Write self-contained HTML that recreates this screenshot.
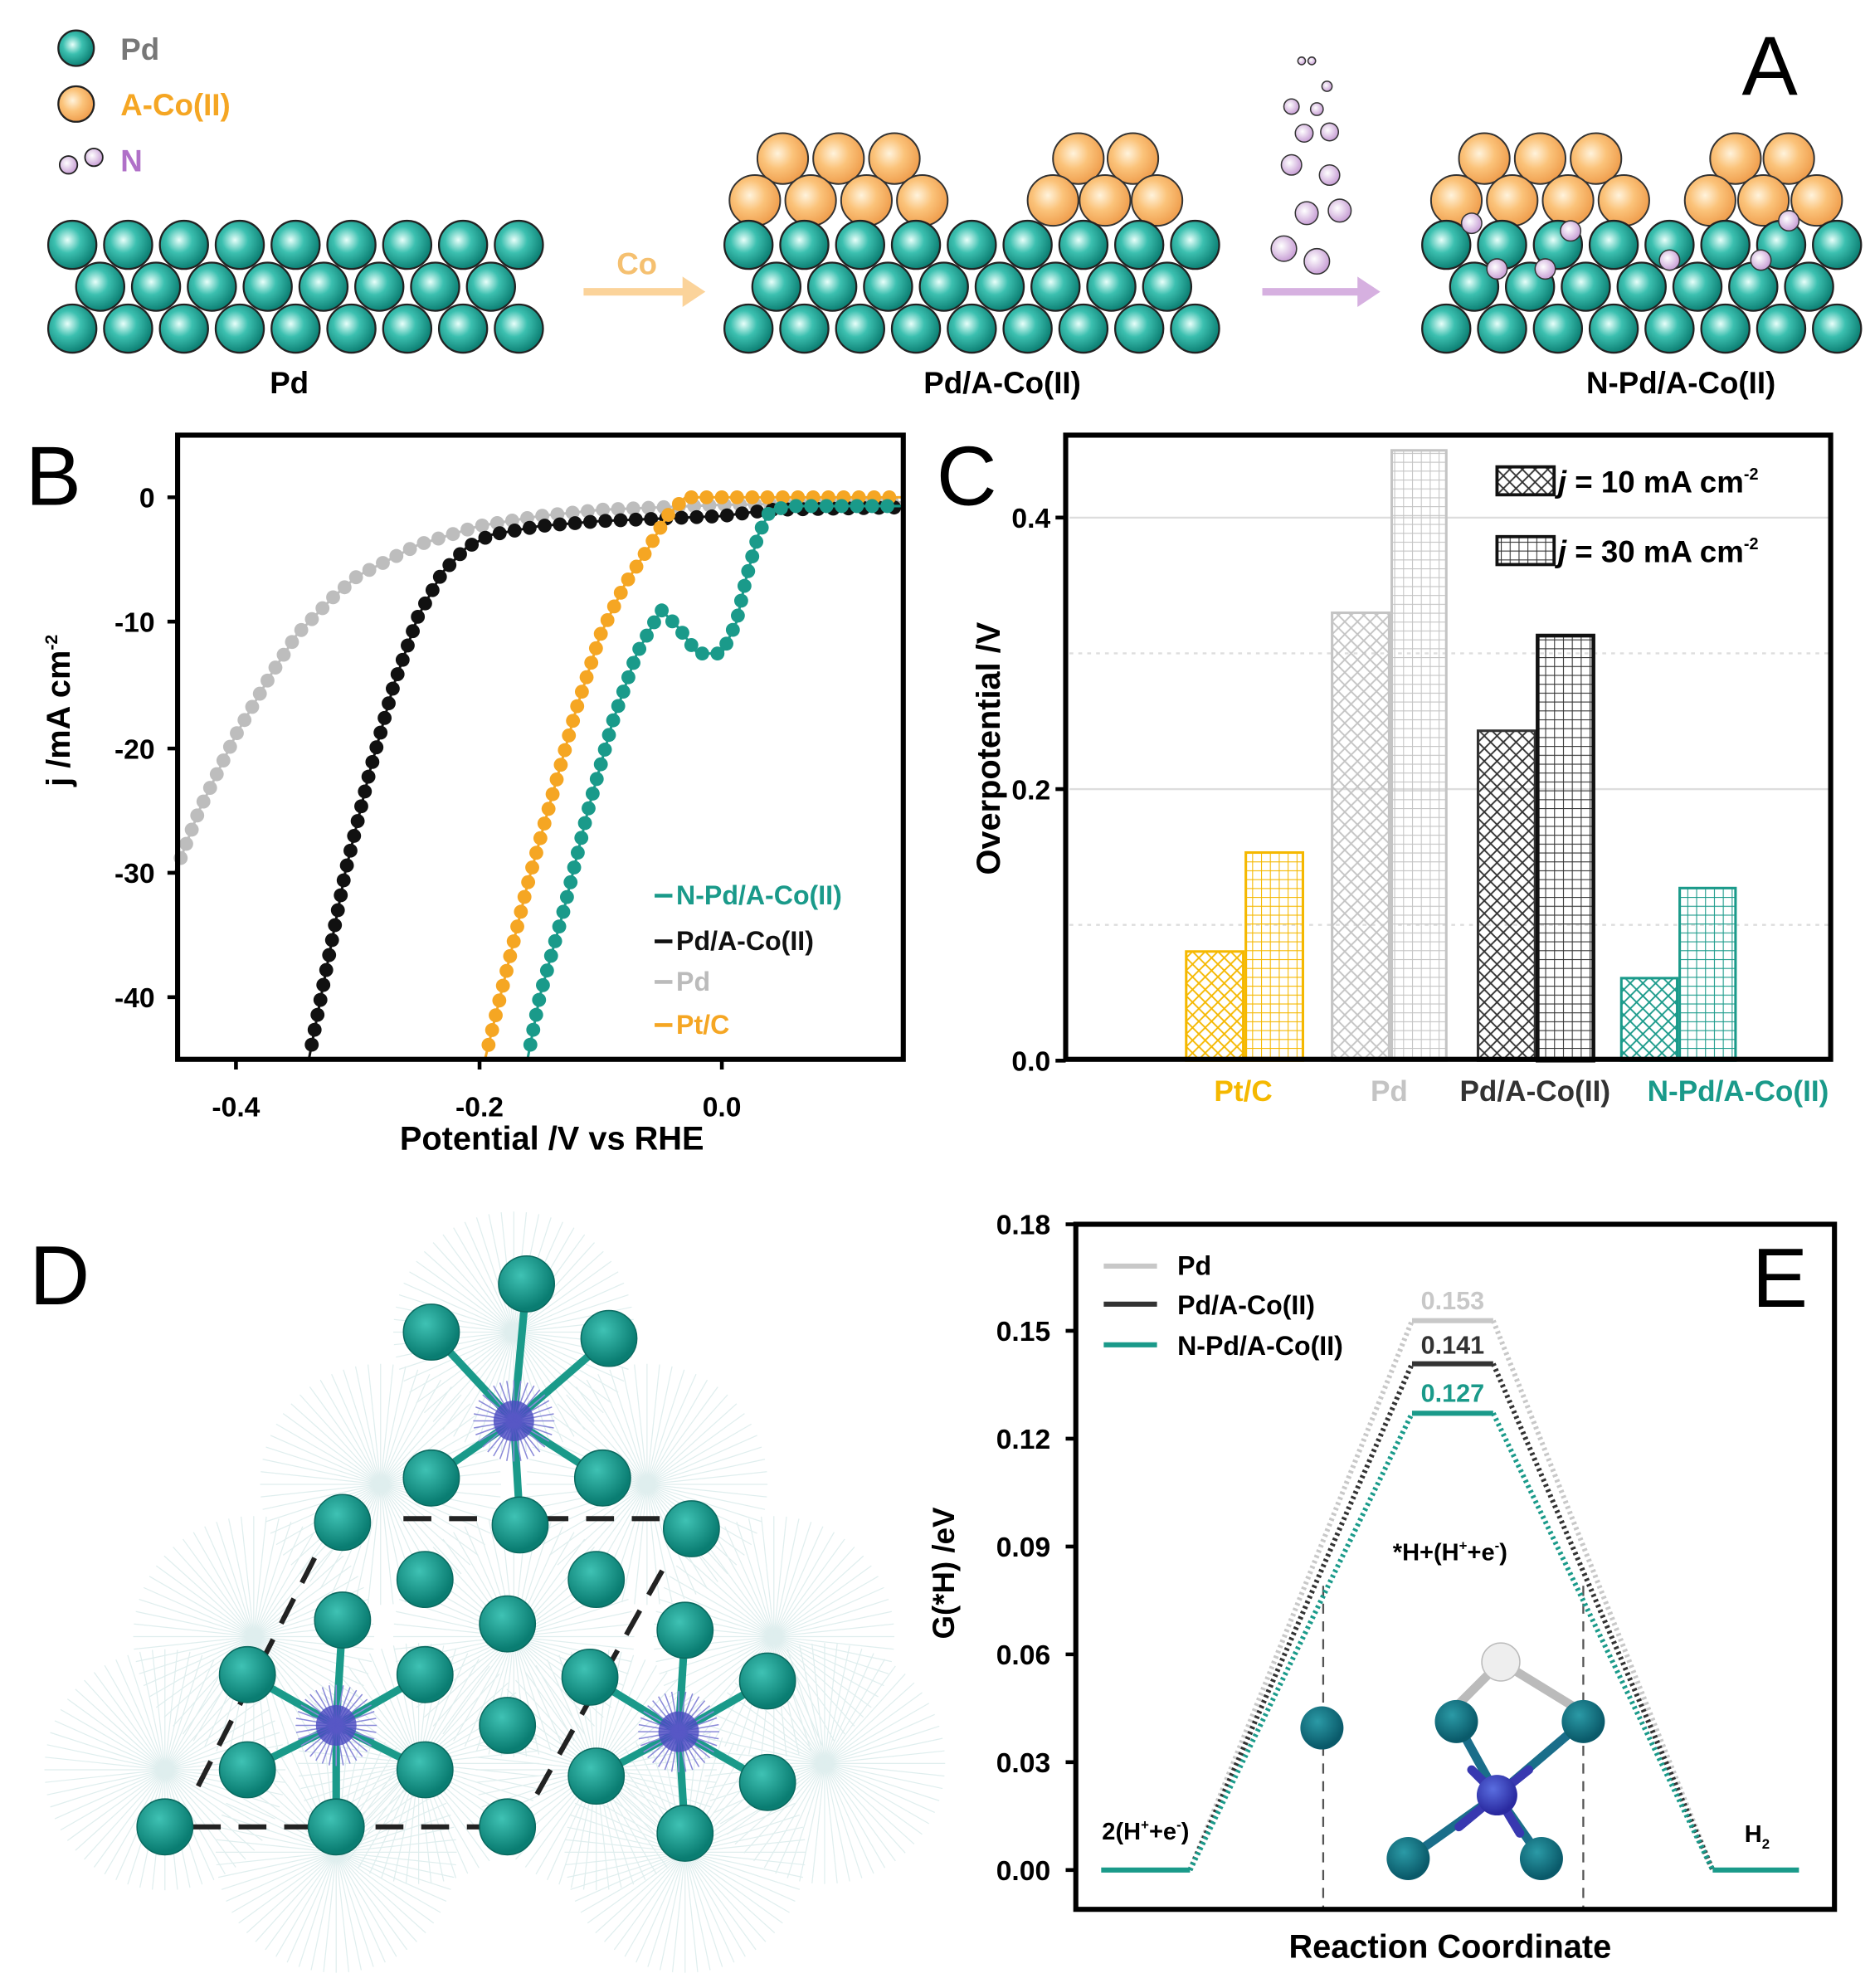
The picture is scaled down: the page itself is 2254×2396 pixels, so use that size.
<!DOCTYPE html>
<html><head><meta charset="utf-8">
<style>
html,body{margin:0;padding:0;background:#fff;}
svg{display:block;}
text{font-family:"Liberation Sans",sans-serif;}
</style></head>
<body>
<svg id="s" width="2254" height="2396" viewBox="0 0 1474 1567" preserveAspectRatio="none" xmlns="http://www.w3.org/2000/svg">
<defs>
<radialGradient id="gt" cx="0.4" cy="0.4" r="0.6"><stop offset="0" stop-color="#e8fffa"/><stop offset="0.45" stop-color="#3cc0b0"/><stop offset="1" stop-color="#0e8276"/></radialGradient>
<radialGradient id="go" cx="0.4" cy="0.4" r="0.6"><stop offset="0" stop-color="#fff3dc"/><stop offset="0.5" stop-color="#fbc37a"/><stop offset="1" stop-color="#f0a050"/></radialGradient>
<radialGradient id="gp" cx="0.4" cy="0.4" r="0.6"><stop offset="0" stop-color="#fff"/><stop offset="1" stop-color="#c9a0d6"/></radialGradient>
<radialGradient id="gd" cx="0.4" cy="0.35" r="0.6"><stop offset="0" stop-color="#3fc2b4"/><stop offset="1" stop-color="#0a7d72"/></radialGradient>
<radialGradient id="ge" cx="0.4" cy="0.35" r="0.6"><stop offset="0" stop-color="#2b9aa6"/><stop offset="1" stop-color="#0a5a6a"/></radialGradient>
<radialGradient id="gb" cx="0.4" cy="0.35" r="0.6"><stop offset="0" stop-color="#5a6ee0"/><stop offset="1" stop-color="#2a2aa0"/></radialGradient>
<pattern id="xo" width="10" height="10" patternUnits="userSpaceOnUse"><path d="M0 0L10 10M10 0L0 10" stroke="#f5b800" stroke-width="1.2"/></pattern>
<pattern id="qo" width="7" height="7" patternUnits="userSpaceOnUse"><path d="M0 0H7M0 0V7" stroke="#f5b800" stroke-width="1.4"/></pattern>
<pattern id="xg" width="10" height="10" patternUnits="userSpaceOnUse"><path d="M0 0L10 10M10 0L0 10" stroke="#c4c4c4" stroke-width="1.2"/></pattern>
<pattern id="qg" width="7" height="7" patternUnits="userSpaceOnUse"><path d="M0 0H7M0 0V7" stroke="#c4c4c4" stroke-width="1.4"/></pattern>
<pattern id="xk" width="10" height="10" patternUnits="userSpaceOnUse"><path d="M0 0L10 10M10 0L0 10" stroke="#333" stroke-width="1.2"/></pattern>
<pattern id="qk" width="7" height="7" patternUnits="userSpaceOnUse"><path d="M0 0H7M0 0V7" stroke="#333" stroke-width="1.4"/></pattern>
<pattern id="xt" width="10" height="10" patternUnits="userSpaceOnUse"><path d="M0 0L10 10M10 0L0 10" stroke="#1a9a8a" stroke-width="1.2"/></pattern>
<pattern id="qt" width="7" height="7" patternUnits="userSpaceOnUse"><path d="M0 0H7M0 0V7" stroke="#1a9a8a" stroke-width="1.4"/></pattern>
</defs>
<rect width="1474" height="1567" fill="#fff"/>
<g id="A"></g>
<!-- A labels -->
<circle cx="60" cy="38" r="14" fill="url(#gt)" stroke="#222" stroke-width="1.5"/>
<text x="95" y="47" font-size="24" font-weight="bold" fill="#777">Pd</text>
<circle cx="60" cy="82" r="14" fill="url(#go)" stroke="#222" stroke-width="1.5"/>
<text x="95" y="91" font-size="24" font-weight="bold" fill="#f5a623">A-Co(II)</text>
<circle cx="54" cy="130" r="7" fill="url(#gp)" stroke="#222" stroke-width="1.2"/>
<circle cx="74" cy="124" r="7" fill="url(#gp)" stroke="#222" stroke-width="1.2"/>
<text x="95" y="135" font-size="24" font-weight="bold" fill="#b070c8">N</text>
<text x="1395" y="75" font-size="66" text-anchor="middle" fill="#000">A</text>
<text x="228" y="310" font-size="24" font-weight="bold" text-anchor="middle">Pd</text>
<text x="790" y="310" font-size="24" font-weight="bold" text-anchor="middle">Pd/A-Co(II)</text>
<text x="1325" y="310" font-size="24" font-weight="bold" text-anchor="middle">N-Pd/A-Co(II)</text>
<path d="M460 230H540" stroke="#fbd39a" stroke-width="6"/><path d="M538 218L556 230L538 242Z" fill="#fbd39a"/>
<text x="502" y="216" font-size="24" font-weight="bold" text-anchor="middle" fill="#f5c070">Co</text>
<path d="M995 230H1072" stroke="#d6b0e0" stroke-width="6"/><path d="M1070 218L1088 230L1070 242Z" fill="#d6b0e0"/>

<!-- B -->
<text x="42" y="398" font-size="66" text-anchor="middle">B</text>
<g id="Bd"></g>
<rect x="140" y="343" width="572" height="492" fill="none" stroke="#000" stroke-width="4"/>
<g font-size="22" font-weight="bold" text-anchor="end">
<text x="122" y="400">0</text><text x="122" y="498">-10</text><text x="122" y="598">-20</text><text x="122" y="696">-30</text><text x="122" y="794">-40</text>
</g>
<g stroke="#000" stroke-width="3"><path d="M132 392h8M132 490h8M132 590h8M132 688h8M132 786h8M186 835v8M378 835v8M569 835v8"/></g>
<g font-size="22" font-weight="bold" text-anchor="middle">
<text x="186" y="880">-0.4</text><text x="378" y="880">-0.2</text><text x="569" y="880">0.0</text>
<text x="435" y="906" font-size="26">Potential /V vs RHE</text>
</g>
<text transform="translate(55,560) rotate(-90)" font-size="26" font-weight="bold" text-anchor="middle">j /mA cm<tspan font-size="14" dy="-10">-2</tspan></text>
<g font-size="21" font-weight="bold">
<path d="M516 706h14" stroke="#1a9a8a" stroke-width="3"/><text x="533" y="713" fill="#1a9a8a">N-Pd/A-Co(II)</text>
<path d="M516 742h14" stroke="#111" stroke-width="3"/><text x="533" y="749" fill="#111">Pd/A-Co(II)</text>
<path d="M516 774h14" stroke="#bbb" stroke-width="3"/><text x="533" y="781" fill="#bbb">Pd</text>
<path d="M516 808h14" stroke="#f5a623" stroke-width="3"/><text x="533" y="815" fill="#f5a623">Pt/C</text>
</g>

<!-- C -->
<text x="762" y="398" font-size="66" text-anchor="middle">C</text>
<g stroke="#ddd" stroke-width="1.5"><path d="M843 622H1441M843 408H1441"/><path d="M843 729H1441M843 515H1441" stroke-dasharray="3 4"/></g>
<rect x="935" y="750" width="45" height="86" fill="url(#xo)" stroke="#f5b800" stroke-width="2"/>
<rect x="982" y="672" width="45" height="164" fill="url(#qo)" stroke="#f5b800" stroke-width="2"/>
<rect x="1050" y="483" width="45" height="353" fill="url(#xg)" stroke="#c4c4c4" stroke-width="2"/>
<rect x="1097" y="355" width="43" height="481" fill="url(#qg)" stroke="#c4c4c4" stroke-width="2"/>
<rect x="1165" y="576" width="45" height="260" fill="url(#xk)" stroke="#333" stroke-width="2"/>
<rect x="1212" y="501" width="44" height="335" fill="url(#qk)" stroke="#111" stroke-width="3"/>
<rect x="1278" y="771" width="44" height="65" fill="url(#xt)" stroke="#1a9a8a" stroke-width="2"/>
<rect x="1324" y="700" width="44" height="136" fill="url(#qt)" stroke="#1a9a8a" stroke-width="2"/>
<rect x="840" y="343" width="603" height="492" fill="none" stroke="#000" stroke-width="4"/>
<g stroke="#000" stroke-width="3"><path d="M832 836h8M832 622h8M832 408h8"/></g>
<g font-size="22" font-weight="bold" text-anchor="end"><text x="828" y="844">0.0</text><text x="828" y="630">0.2</text><text x="828" y="416">0.4</text></g>
<text transform="translate(788,590) rotate(-90)" font-size="26" font-weight="bold" text-anchor="middle">Overpotential /V</text>
<rect x="1180" y="368" width="45" height="22" fill="url(#xk)" stroke="#111" stroke-width="2.5"/>
<rect x="1180" y="423" width="45" height="22" fill="url(#qk)" stroke="#111" stroke-width="2.5"/>
<g font-size="24" font-weight="bold"><text x="1228" y="388"><tspan font-style="italic">j</tspan> = 10 mA cm<tspan font-size="13" dy="-10">-2</tspan></text>
<text x="1228" y="443"><tspan font-style="italic">j</tspan> = 30 mA cm<tspan font-size="13" dy="-10">-2</tspan></text></g>
<g font-size="23" font-weight="bold" text-anchor="middle">
<text x="980" y="868" fill="#f5b800">Pt/C</text><text x="1095" y="868" fill="#c4c4c4">Pd</text>
<text x="1210" y="868" fill="#333">Pd/A-Co(II)</text><text x="1370" y="868" fill="#1a9a8a">N-Pd/A-Co(II)</text>
</g>

<!-- D -->
<text x="47" y="1028" font-size="66" text-anchor="middle">D</text>
<g id="D"></g>

<!-- E -->
<text x="1403" y="1030" font-size="66" text-anchor="middle">E</text>
<g stroke="#555" stroke-width="1.5" stroke-dasharray="8 6"><path d="M1043 1250V1505M1248 1250V1505"/></g>
<g fill="none" stroke-width="4" stroke-dasharray="2 2.5">
<path d="M938 1474L1113 1041M1177 1041L1350 1474" stroke="#c8c8c8"/>
<path d="M938 1474L1113 1075M1177 1075L1350 1474" stroke="#333"/>
<path d="M938 1474L1113 1114M1177 1114L1350 1474" stroke="#1a9a8a"/>
</g>
<g stroke-width="4"><path d="M1113 1041H1177" stroke="#c8c8c8"/><path d="M1113 1075H1177" stroke="#333"/><path d="M1113 1114H1177" stroke="#1a9a8a"/>
<path d="M868 1474H938M1350 1474H1418" stroke="#1a9a8a"/></g>
<g font-size="20" font-weight="bold" text-anchor="middle">
<text x="1145" y="1032" fill="#c8c8c8">0.153</text><text x="1145" y="1067" fill="#333">0.141</text><text x="1145" y="1105" fill="#1a9a8a">0.127</text>
<text x="1143" y="1230" font-size="19">*H+(H<tspan font-size="11" dy="-8">+</tspan><tspan dy="8">+e</tspan><tspan font-size="11" dy="-8">-</tspan><tspan dy="8">)</tspan></text>
<text x="903" y="1450" font-size="19">2(H<tspan font-size="11" dy="-8">+</tspan><tspan dy="8">+e</tspan><tspan font-size="11" dy="-8">-</tspan><tspan dy="8">)</tspan></text>
<text x="1385" y="1452" font-size="19">H<tspan font-size="11" dy="5">2</tspan></text>
</g>
<g stroke-width="4"><path d="M870 998h42" stroke="#c8c8c8"/><path d="M870 1028h42" stroke="#333"/><path d="M870 1060h42" stroke="#1a9a8a"/></g>
<g font-size="21" font-weight="bold"><text x="928" y="1005">Pd</text><text x="928" y="1036">Pd/A-Co(II)</text><text x="928" y="1068">N-Pd/A-Co(II)</text></g>
<g stroke-width="7" stroke-linecap="round">
<path d="M1183 1310L1148 1345M1183 1310L1240 1345" stroke="#bbb"/>
<path d="M1148 1357L1180 1415M1248 1357L1180 1415M1110 1465L1180 1415M1215 1465L1180 1415" stroke="#1a6e8a"/>
<path d="M1180 1415L1160 1395M1180 1415L1205 1395M1180 1415L1150 1440M1180 1415L1198 1445" stroke="#3838b0"/>
</g>
<circle cx="1042" cy="1362" r="17" fill="url(#ge)"/>
<circle cx="1148" cy="1357" r="17" fill="url(#ge)"/>
<circle cx="1248" cy="1357" r="17" fill="url(#ge)"/>
<circle cx="1183" cy="1310" r="15" fill="#eee" stroke="#bbb"/>
<circle cx="1180" cy="1415" r="16" fill="url(#gb)"/>
<circle cx="1110" cy="1465" r="17" fill="url(#ge)"/>
<circle cx="1215" cy="1465" r="17" fill="url(#ge)"/>
<rect x="848" y="965" width="598" height="540" fill="none" stroke="#000" stroke-width="4"/>
<g stroke="#000" stroke-width="3"><path d="M840 965h8M840 1049h8M840 1134h8M840 1219h8M840 1304h8M840 1389h8M840 1474h8"/></g>
<g font-size="22" font-weight="bold" text-anchor="end">
<text x="828" y="973">0.18</text><text x="828" y="1057">0.15</text><text x="828" y="1142">0.12</text><text x="828" y="1227">0.09</text><text x="828" y="1312">0.06</text><text x="828" y="1397">0.03</text><text x="828" y="1482">0.00</text>
</g>
<text transform="translate(752,1240) rotate(-90)" font-size="24" font-weight="bold" text-anchor="middle">G(*H) /eV</text>
<text x="1143" y="1543" font-size="26" font-weight="bold" text-anchor="middle">Reaction Coordinate</text>
</svg>
<script>
var NS="http://www.w3.org/2000/svg";
function el(p,t,a){var e=document.createElementNS(NS,t);for(var k in a)e.setAttribute(k,a[k]);p.appendChild(e);return e;}
var A=document.getElementById("A");
function slab(x0,n){for(var r=0;r<3;r++){var y=193+r*33,off=(r==1)?22:0,m=(r==1)?n-1:n;for(var i=0;i<m;i++)el(A,"circle",{cx:x0+off+i*44,cy:y,r:19,fill:"url(#gt)",stroke:"#222","stroke-width":1.5});}}
function orb(list){list.forEach(function(p){el(A,"circle",{cx:p[0],cy:p[1],r:20,fill:"url(#go)",stroke:"#333","stroke-width":1.3});});}
orb([[617,125],[661,125],[705,125],[595,158],[639,158],[683,158],[727,158],[850,125],[893,125],[830,158],[871,158],[912,158]]);
orb([[1170,125],[1214,125],[1258,125],[1148,158],[1192,158],[1236,158],[1280,158],[1368,125],[1410,125],[1348,158],[1390,158],[1432,158]]);
slab(57,9);slab(590,9);slab(1140,8);
[[1160,176],[1238,182],[1180,212],[1218,212],[1316,205],[1388,205],[1410,174]].forEach(function(p){el(A,"circle",{cx:p[0],cy:p[1],r:8,fill:"url(#gp)",stroke:"#333","stroke-width":1});});
[[1012,196,10],[1038,206,10],[1030,168,9],[1056,166,9],[1018,130,8],[1048,138,8],[1028,105,7],[1048,104,7],[1018,84,6],[1038,86,5],[1046,68,4],[1026,48,3],[1034,48,3]].forEach(function(p){el(A,"circle",{cx:p[0],cy:p[1],r:p[2],fill:"url(#gp)",stroke:"#333","stroke-width":1});});
// B
var B=document.getElementById("Bd");
function px(v){return 140+(v+0.448)*957.5;} function py(j){return 392-j*9.85;}
function curve(pts,col){var P=pts.map(function(p){return [px(p[0]),py(p[1])];});
 el(B,"polyline",{points:P.map(function(p){return p.join(",");}).join(" "),fill:"none",stroke:col,"stroke-width":2});
 var acc=0,step=12;for(var i=0;i<P.length-1;i++){var dx=P[i+1][0]-P[i][0],dy=P[i+1][1]-P[i][1],L=Math.sqrt(dx*dx+dy*dy);
  var t=acc;while(t<L){var x=P[i][0]+dx*t/L,y=P[i][1]+dy*t/L;if(x<710&&y<833&&x>142)el(B,"circle",{cx:x,cy:y,r:5.5,fill:col});t+=step;}acc=t-L;}}
curve([[-0.45,-30],[-0.43,-25],[-0.40,-19],[-0.37,-14],[-0.35,-11],[-0.32,-8],[-0.30,-6.3],[-0.25,-3.8],[-0.20,-2.3],[-0.15,-1.5],[-0.1,-1],[0,-0.6],[0.15,-0.4]],"#bdbdbd");
curve([[-0.34,-45],[-0.33,-40],[-0.31,-30],[-0.29,-22],[-0.27,-15],[-0.25,-9.5],[-0.23,-6],[-0.21,-4],[-0.19,-3],[-0.15,-2.3],[-0.1,-1.9],[0,-1.5],[0.04,-1],[0.15,-0.8]],"#111");
curve([[-0.195,-45],[-0.18,-39],[-0.16,-31],[-0.14,-24],[-0.12,-17],[-0.1,-11],[-0.08,-7],[-0.06,-4],[-0.045,-1.5],[-0.03,0],[0.15,0]],"#f5a623");
curve([[-0.16,-45],[-0.15,-40],[-0.13,-33],[-0.11,-25],[-0.09,-18],[-0.07,-12.5],[-0.05,-9],[-0.035,-10.5],[-0.02,-12.5],[0,-12.5],[0.012,-10],[0.02,-6.5],[0.03,-3],[0.04,-1],[0.06,-0.7],[0.15,-0.7]],"#1a9a8a");
// D
var D=document.getElementById("D");
[[405,1050],[300,1170],[510,1170],[200,1290],[405,1290],[610,1290],[130,1395],[330,1390],[470,1395],[650,1390],[265,1460],[540,1460]].forEach(function(c){
 for(var a=0;a<360;a+=6){var r=a*Math.PI/180;el(D,"line",{x1:c[0],y1:c[1],x2:c[0]+95*Math.cos(r),y2:c[1]+95*Math.sin(r),stroke:"#dfeeee","stroke-width":0.8});}});
var dash={stroke:"#222","stroke-width":4,"stroke-dasharray":"22 14",fill:"none"};
[[318,1197,520,1197],[248,1228,150,1420],[152,1440,380,1440],[522,1238,420,1420]].forEach(function(l){var o=Object.assign({x1:l[0],y1:l[1],x2:l[2],y2:l[3]},dash);el(D,"line",o);});
var cl=[[405,1120,[[340,1050],[415,1012],[480,1055],[340,1165],[475,1165],[410,1202]]],[265,1360,[[195,1320],[270,1277],[335,1320],[195,1395],[335,1395],[265,1440]]],[535,1365,[[465,1322],[540,1285],[605,1325],[470,1400],[605,1405],[540,1445]]]];
cl.forEach(function(c){c[2].forEach(function(b){el(D,"line",{x1:c[0],y1:c[1],x2:b[0],y2:b[1],stroke:"#1a9a8a","stroke-width":6});});
 for(var a=0;a<360;a+=10){var r=a*Math.PI/180;el(D,"line",{x1:c[0],y1:c[1],x2:c[0]+32*Math.cos(r),y2:c[1]+32*Math.sin(r),stroke:"#8a8ad8","stroke-width":1});}
 el(D,"circle",{cx:c[0],cy:c[1],r:16,fill:"#4a4ac0",opacity:0.8});});
var balls=[[270,1200],[545,1205],[335,1245],[470,1245],[400,1280],[400,1360],[130,1440],[400,1440]];
cl.forEach(function(c){balls=balls.concat(c[2]);});
balls.forEach(function(b){el(D,"circle",{cx:b[0],cy:b[1],r:22,fill:"url(#gd)",stroke:"#0a6a60","stroke-width":1});});
</script>
</body></html>
